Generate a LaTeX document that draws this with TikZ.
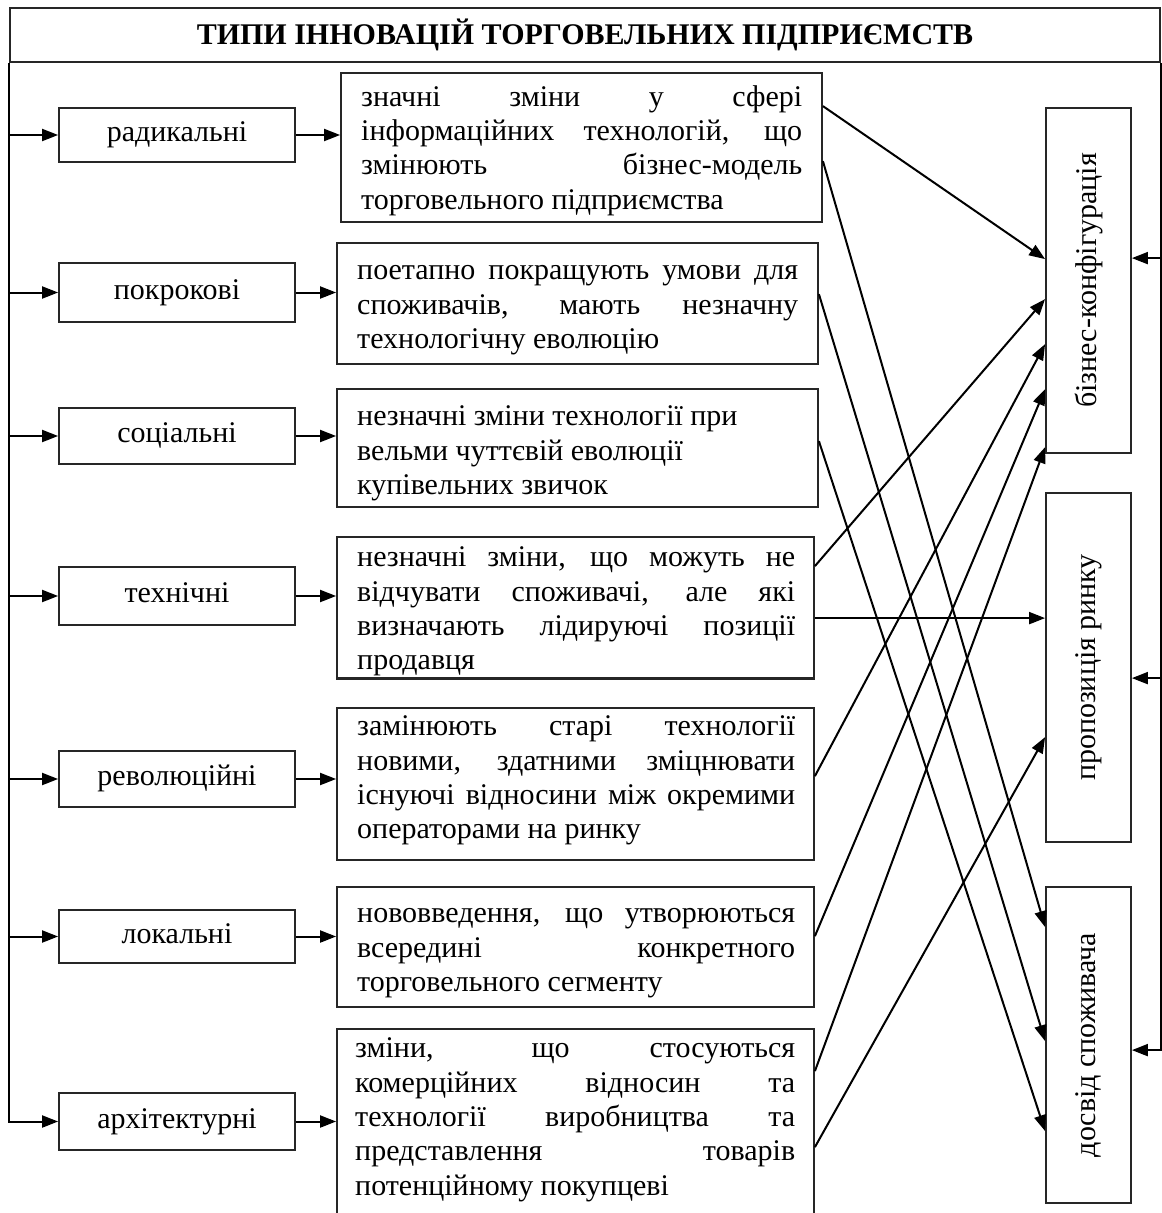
\documentclass[tikz,border=0pt]{standalone}
\usepackage{fontspec}
\setmainfont{Liberation Serif}
\usetikzlibrary{arrows.meta,calc}
\newcommand\jl[2]{\makebox[#1][s]{#2}}
\begin{document}
\begin{tikzpicture}[x=1pt,y=-1pt,
  arr/.style={line width=2pt,-{Triangle[length=16pt,width=12pt]}},
  bx/.style={draw=black!85,line width=1.8pt,inner sep=0pt,rectangle},
  lbox/.style={bx,minimum width=236pt,text height=20pt,text depth=6.6pt,font=\fontsize{30}{34}\selectfont},
  dtext/.style={inner sep=0pt,anchor=north west,align=left,font=\fontsize{30}{34.3}\selectfont},
  rlab/.style={rotate=90,inner sep=0pt,font=\fontsize{30}{34}\selectfont}]
\useasboundingbox (0,0) rectangle (1162,1213);
\fill[white] (0,0) rectangle (1162,1213);
% title
\node[bx,minimum width=1150pt,minimum height=54pt,font=\fontsize{30}{34}\selectfont\bfseries] (title) at (585,35) {ТИПИ ІННОВАЦІЙ ТОРГОВЕЛЬНИХ ПІДПРИЄМСТВ};
% left boxes
\node[lbox,minimum height=54pt] (b1) at (177,135) {радикальні};
\node[lbox,minimum height=59pt] (b2) at (177,292.5) {покрокові};
\node[lbox,minimum height=56pt] (b3) at (177,436) {соціальні};
\node[lbox,minimum height=58pt] (b4) at (177,596) {технічні};
\node[lbox,minimum height=56pt] (b5) at (177,779) {революційні};
\node[lbox,minimum height=53pt] (b6) at (177,936.5) {локальні};
\node[lbox,minimum height=57pt] (b7) at (177,1121.5) {архітектурні};
% description boxes
\node[bx,minimum width=481pt,minimum height=149pt] (d1) at (581.5,147.5) {};
\node[bx,minimum width=481pt,minimum height=121pt] (d2) at (577.5,303.5) {};
\node[bx,minimum width=481pt,minimum height=118pt] (d3) at (577.5,448) {};
\node[bx,minimum width=477pt,minimum height=141pt] (d4) at (575.5,607.5) {};
\node[bx,minimum width=477pt,minimum height=152pt] (d5) at (575.5,784) {};
\node[bx,minimum width=477pt,minimum height=120pt] (d6) at (575.5,947) {};
\node[bx,minimum width=477pt,minimum height=190pt] (d7) at (575.5,1124) {};
% description texts
\node[dtext] (t1) at (361,82) {\strut\jl{441pt}{значні зміни у сфері}\\\jl{441pt}{інформаційних технологій, що}\\\jl{441pt}{змінюють бізнес-модель}\\торговельного підприємства};
\node[dtext] (t2) at (357,255.7) {\strut\jl{441pt}{поетапно покращують умови для}\\\jl{441pt}{споживачів, мають незначну}\\технологічну еволюцію};
\node[dtext] (t3) at (357,401.5) {\strut незначні зміни технології при\\вельми чуттєвій еволюції\\купівельних звичок};
\node[dtext] (t4) at (357,542.7) {\strut\jl{438pt}{незначні зміни, що можуть не}\\\jl{438pt}{відчувати споживачі, але які}\\\jl{438pt}{визначають лідируючі позиції}\\продавця};
\node[dtext] (t5) at (357,711.7) {\strut\jl{438pt}{замінюють старі технології}\\\jl{438pt}{новими, здатними зміцнювати}\\\jl{438pt}{існуючі відносини між окремими}\\операторами на ринку};
\node[dtext] (t6) at (357,898.7) {\strut\jl{438pt}{нововведення, що утворюються}\\\jl{438pt}{всередині конкретного}\\торговельного сегменту};
\node[dtext] (t7) at (355,1033.7) {\strut\jl{440pt}{зміни, що стосуються}\\\jl{440pt}{комерційних відносин та}\\\jl{440pt}{технології виробництва та}\\\jl{440pt}{представлення товарів}\\потенційному покупцеві};
% redraw box border over overflowing text
\draw[draw=black!85,line width=1.8pt] (d4.south west) -- (d4.south east);
% right boxes
\node[bx,minimum width=85pt,minimum height=345pt] (r1) at (1088.5,280.5) {};
\node[bx,minimum width=85pt,minimum height=349pt] (r2) at (1088.5,667.5) {};
\node[bx,minimum width=85pt,minimum height=316pt] (r3) at (1088.5,1045) {};
\node[rlab] (l1) at (r1.center) {бізнес-конфігурація};
\node[rlab] (l2) at (r2.center) {пропозиція ринку};
\node[rlab] (l3) at (r3.center) {досвід споживача};
% left bus
\draw[arr] (title.south west) |- (b7.west);
\foreach \b in {b1,b2,b3,b4,b5,b6}{\draw[arr] (\b.west -| title.west) -- (\b.west);}
% left box to description
\draw[arr] (b1.east) -- (b1.east -| d1.west);
\draw[arr] (b2.east) -- (b2.east -| d2.west);
\draw[arr] (b3.east) -- (b3.east -| d3.west);
\draw[arr] (b4.east) -- (b4.east -| d4.west);
\draw[arr] (b5.east) -- (b5.east -| d5.west);
\draw[arr] (b6.east) -- (b6.east -| d6.west);
\draw[arr] (b7.east) -- (b7.east -| d7.west);
% right bus
\coordinate (e3) at ([yshift=-164pt]r3.north east);
\draw[arr] (title.south east) |- (e3);
\coordinate (e1) at ([yshift=-151pt]r1.north east);
\coordinate (e2) at ([yshift=-186pt]r2.north east);
\draw[arr] (e1 -| title.east) -- (e1);
\draw[arr] (e2 -| title.east) -- (e2);
% crossing connectors
\draw[arr] ([yshift=-34pt]d1.north east) -- ([yshift=-152pt]r1.north west);
\draw[arr] ([yshift=-89pt]d1.north east) -- ([yshift=-41pt]r3.north west);
\draw[arr] ([yshift=-52pt]d2.north east) -- ([yshift=-155pt]r3.north west);
\draw[arr] ([yshift=-53pt]d3.north east) -- ([yshift=-245pt]r3.north west);
\draw[arr] ([yshift=-30pt]d4.north east) -- ([yshift=-192pt]r1.north west);
\draw[arr] ([yshift=-82pt]d4.north east) -- ([yshift=-126pt]r2.north west);
\draw[arr] ([yshift=-69pt]d5.north east) -- ([yshift=-237pt]r1.north west);
\draw[arr] ([yshift=-50pt]d6.north east) -- ([yshift=-282pt]r1.north west);
\draw[arr] ([yshift=-43pt]d7.north east) -- ([yshift=-340pt]r1.north west);
\draw[arr] ([yshift=-119pt]d7.north east) -- ([yshift=-245pt]r2.north west);
\end{tikzpicture}
\end{document}
